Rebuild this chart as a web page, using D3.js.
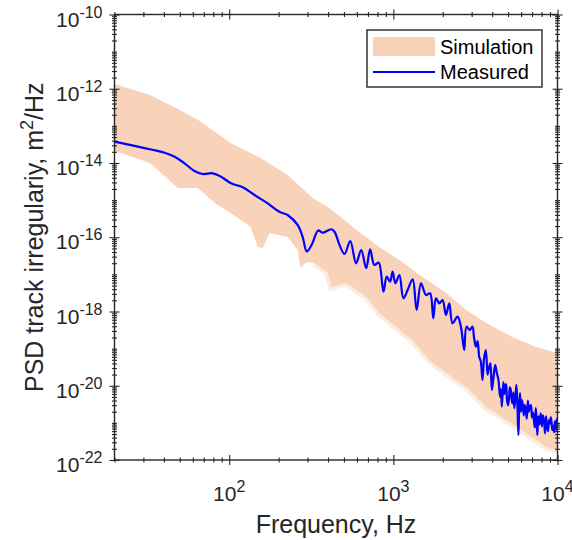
<!DOCTYPE html>
<html>
<head>
<meta charset="utf-8">
<script src="https://cdn.jsdelivr.net/npm/d3@7"></script>
<style>
  body { margin: 0; background: #fff; }
  text { font-family: "Liberation Sans", Arial, Helvetica, sans-serif; }
</style>
</head>
<body>
<div id="chart"></div>
<script>
// measured PSD
var measFreq = [20, 27.8, 40.4, 46.5, 53.4, 61.4, 69.0, 79.4, 89.2, 102.6, 120.9, 142.4, 171.5, 202, 226.8,
  261, 280, 297, 317.5, 348.6, 370, 418, 438, 470, 504, 546, 593, 637, 683, 722, 766, 814, 870, 911, 955,
  990, 1029, 1088, 1151, 1222, 1311, 1386, 1474, 1581, 1672, 1751, 1818, 1905, 1994, 2092, 2191, 2294,
  2460, 2580, 2702, 2791, 2927, 3035, 3100, 3183, 3260, 3334, 3410, 3491, 3570, 3662, 3750, 3835, 3900,
  3982, 4070, 4171, 4270, 4368, 4470, 4530, 4580, 4680, 4740, 4797, 4860, 4930, 5000, 5074, 5130, 5190,
  5250, 5314, 5390, 5460, 5540, 5620, 5700, 5779, 5840, 5910, 5980, 6061, 6140, 6230, 6320, 6410, 6500,
  6600, 6690, 6780, 6890, 6990, 7090, 7198, 7280, 7370, 7450, 7541, 7630, 7720, 7810, 7907, 8030, 8150,
  8270, 8398, 8520, 8640, 8760, 8882, 8990, 9100, 9200, 9300, 9420, 9530, 9640, 9754, 9820, 9880, 9940, 10000];
var measPsd = [3.75e-14, 2.75e-14, 1.89e-14, 1.48e-14, 9.8e-15, 6.09e-15, 5.06e-15, 5.28e-15, 4.28e-15,
  2.84e-15, 2.22e-15, 1.37e-15, 8.2e-16, 4.88e-16, 3.97e-16, 2.14e-16, 1.03e-16, 4.13e-17, 6.18e-17,
  1.52e-16, 1.33e-16, 1.64e-16, 1.41e-16, 6.18e-17, 3.54e-17, 7.92e-17, 1.99e-17, 4.54e-17, 1.46e-17,
  4.73e-17, 1.79e-17, 2.06e-17, 3.41e-18, 8.66e-18, 6.35e-18, 1.18e-17, 5.75e-18, 9.6e-18, 2.27e-18,
  3.79e-18, 7.37e-18, 1.10e-18, 5.75e-18, 2.78e-18, 3.09e-18, 6.56e-19, 2.27e-18, 1.66e-18, 2.04e-18,
  8.05e-19, 1.66e-18, 4.81e-19, 7.24e-19, 3.9e-19, 9.18e-20, 3.9e-19, 3.18e-19, 3.9e-19, 2.0e-19,
  1.13e-19, 1.6e-19, 6.06e-20, 4.5e-20, 1.43e-20, 5.5e-20, 9.18e-20, 2.0e-20, 3.26e-20, 4.0e-20,
  7.68e-21, 1.6e-20, 3.62e-20, 2.2e-20, 1.43e-20, 5.0e-21, 8.0e-21, 2.73e-21, 1.26e-20, 6.0e-21,
  9.42e-21, 1.1e-20, 4.0e-21, 3.0e-21, 5.07e-21, 9.0e-21, 7.9e-21, 4.5e-21, 3.37e-21, 6.5e-21,
  2.5e-21, 5.0e-21, 1.05e-20, 3.0e-21, 4.71e-22, 2.6e-21, 6.3e-21, 2.0e-21, 4.13e-21, 3.2e-21,
  1.6e-21, 3.0e-21, 2.22e-21, 1.3e-21, 4.0e-21, 2.0e-21, 2.73e-21, 3.0e-21, 1.4e-21, 1.9e-21,
  1.08e-21, 7.5e-22, 2.5e-21, 1.3e-21, 4.71e-22, 1.5e-21, 8.9e-22, 1.1e-21, 1.81e-21, 8.0e-22,
  1.6e-21, 1.2e-21, 5.24e-22, 1.5e-21, 7.9e-22, 6.0e-22, 1.19e-21, 9.5e-22, 1.4e-21, 1.05e-21,
  6.43e-22, 8.0e-22, 5.6e-22, 1.1e-21, 8.77e-22, 6.5e-22, 1.26e-21, 1.0e-21, 8.5e-22];

// simulation envelope
var simUpFreq = [20, 32.9, 50, 66.2, 102, 155.5, 226.8, 322, 408, 596, 822, 1134, 1501, 2101, 2779, 3677,
  5291, 7404, 10000];
var simUpPsd = [1.34e-12, 6.79e-13, 2.68e-13, 1.35e-13, 3.46e-14, 1.36e-14, 4.75e-15, 1.14e-15, 6.14e-16,
  1.57e-16, 5.46e-17, 2.15e-17, 8.5e-18, 3.15e-18, 1.10e-18, 4.9e-19, 2.06e-19, 1.11e-19, 7.6e-20];
var simLoFreq = [20, 32.9, 48.6, 64.4, 81.3, 102, 135, 149, 160, 176, 227, 261, 272, 296, 331, 397, 420,
  518, 686, 822, 1043, 1305, 1655, 2101, 2779, 3677, 4864, 6437, 8516, 10000];
var simLoPsd = [2.1e-14, 1.0e-14, 2.12e-15, 2.12e-15, 8.37e-16, 4.5e-16, 1.89e-16, 5.46e-17, 5.1e-17,
  1.3e-16, 1.02e-16, 4.54e-17, 1.49e-17, 2.15e-17, 2.04e-17, 1.16e-17, 4.57e-18, 5.86e-18, 2.46e-18,
  9.1e-19, 3.82e-19, 1.71e-19, 4.94e-20, 2.2e-20, 9.25e-21, 2.68e-21, 1.19e-21, 5.33e-22, 2.24e-22, 1.8e-22];

var xTickVals = [100, 1000, 10000];
var xTickExp = ["2", "3", "4"];
var yTickVals = [1e-22, 1e-20, 1e-18, 1e-16, 1e-14, 1e-12, 1e-10];
var yTickExp = ["-22", "-20", "-18", "-16", "-14", "-12", "-10"];
var legendLabels = ["Simulation", "Measured"];

var W = 572, H = 540;
var margin = { top: 14.5, left: 114.5, right: 14.5, bottom: 80 },
    width = W - margin.left - margin.right,
    height = 460 - margin.top;

var svg = d3.select("#chart").append("svg")
    .attr("width", W).attr("height", H);
var g = svg.append("g")
    .attr("transform", "translate(" + margin.left + "," + margin.top + ")");

var x = d3.scaleLog().domain([20, 10000]).range([0, width]);
var y = d3.scaleLog().domain([1e-22, 1e-10]).range([height, 0]);

g.append("clipPath").attr("id", "clip")
  .append("rect").attr("width", width).attr("height", height);

var line = d3.line()
    .x(function (d) { return x(d.f); })
    .y(function (d) { return y(d.p); });

// simulation band
var bandColor = "#f8d3b9";
var upper = simUpFreq.map(function (f, i) { return { f: f, p: simUpPsd[i] }; });
var lower = simLoFreq.map(function (f, i) { return { f: f, p: simLoPsd[i] }; });
var band = upper.concat(lower.slice().reverse());
// soft fringe along the lower edge
g.append("path")
  .attr("clip-path", "url(#clip)")
  .attr("fill", "none")
  .attr("stroke", bandColor)
  .attr("stroke-opacity", 0.45)
  .attr("stroke-width", 7)
  .attr("d", line(lower.filter(function (d) { return d.f > 300; })));
g.append("path")
  .attr("clip-path", "url(#clip)")
  .attr("fill", bandColor)
  .attr("stroke", "none")
  .attr("d", line(band) + "Z");

// measured
var meas = measFreq.map(function (f, i) { return { f: f, p: measPsd[i] }; });
g.append("path")
  .datum(meas)
  .attr("clip-path", "url(#clip)")
  .attr("fill", "none")
  .attr("stroke", "#0000ff")
  .attr("stroke-width", 2.2)
  .attr("stroke-linejoin", "round")
  .attr("d", line.curve(d3.curveCatmullRom.alpha(0.5)));

// minor tick values
var xMinor = [], yMinor = [];
[10, 100, 1000].forEach(function (b) {
  for (var k = 2; k <= 9; k++) if (b * k >= 20 && b * k <= 10000) xMinor.push(b * k);
});
for (var e = -22; e < -10; e++) {
  if (e % 2 !== 0) yMinor.push(Math.pow(10, e));
  for (var k = 2; k <= 9; k++) yMinor.push(k * Math.pow(10, e));
}

var axisColor = "#262626";
function drawAxis(axis, tx, ty, vals) {
  var ax = g.append("g").attr("transform", "translate(" + tx + "," + ty + ")")
    .call(axis.tickValues(vals).tickFormat("").tickSizeOuter(0));
  ax.select(".domain").remove();
  ax.selectAll(".tick line").attr("stroke", axisColor).attr("stroke-width", 1.1);
  return ax;
}
function vTicks(ax, a, b) { ax.selectAll(".tick line").attr("y1", a).attr("y2", b); }
function hTicks(ax, a, b) { ax.selectAll(".tick line").attr("x1", a).attr("x2", b); }

vTicks(drawAxis(d3.axisBottom(x), 0, height, xMinor), -2.5, 2.5);
vTicks(drawAxis(d3.axisBottom(x), 0, height, xTickVals), -5, 5);
vTicks(drawAxis(d3.axisTop(x), 0, 0, xMinor), -2.5, 2.5);
vTicks(drawAxis(d3.axisTop(x), 0, 0, xTickVals), -5, 5);
hTicks(drawAxis(d3.axisLeft(y), 0, 0, yMinor), -2.5, 2.5);
hTicks(drawAxis(d3.axisLeft(y), 0, 0, yTickVals), -5, 5);
hTicks(drawAxis(d3.axisRight(y), width, 0, yMinor), -2.5, 2.5);
hTicks(drawAxis(d3.axisRight(y), width, 0, yTickVals), -5, 5);

g.append("rect")
  .attr("width", width).attr("height", height)
  .attr("fill", "none").attr("stroke", axisColor).attr("stroke-width", 1.4);

// tick labels
xTickVals.forEach(function (v, i) {
  var t = g.append("text")
    .attr("x", x(v)).attr("y", height + 41)
    .attr("text-anchor", "middle")
    .attr("fill", axisColor)
    .style("font-size", "21px");
  t.append("tspan").text("10");
  t.append("tspan").attr("dy", -9).style("font-size", "16px").text(xTickExp[i]);
});
yTickVals.forEach(function (v, i) {
  var t = g.append("text")
    .attr("x", -12).attr("y", y(v) + 12)
    .attr("text-anchor", "end")
    .attr("fill", axisColor)
    .style("font-size", "21px");
  t.append("tspan").text("10");
  t.append("tspan").attr("dy", -9).style("font-size", "16px").text(yTickExp[i]);
});

// axis labels
svg.append("text")
  .attr("x", margin.left + width / 2).attr("y", 533)
  .attr("text-anchor", "middle").attr("fill", axisColor)
  .style("font-size", "25px")
  .text("Frequency, Hz");

var yl = svg.append("text")
  .attr("transform", "translate(43," + (margin.top + height / 2) + ") rotate(-90)")
  .attr("text-anchor", "middle").attr("fill", axisColor)
  .style("font-size", "25px");
yl.append("tspan").text("PSD track irregulariy, m");
yl.append("tspan").attr("dy", -10).style("font-size", "18px").text("2");
yl.append("tspan").attr("dy", 10).text("/Hz");

// legend
var lg = svg.append("g").attr("transform", "translate(367,30)");
lg.append("rect").attr("width", 175).attr("height", 57)
  .attr("fill", "#fff").attr("stroke", axisColor).attr("stroke-width", 1.4);
lg.append("rect").attr("x", 6).attr("y", 7).attr("width", 62).attr("height", 19)
  .attr("fill", bandColor);
lg.append("line").attr("x1", 6).attr("x2", 68).attr("y1", 42).attr("y2", 42)
  .attr("stroke", "#0000ff").attr("stroke-width", 2.2);
legendLabels.forEach(function (s, i) {
  lg.append("text").attr("x", 73).attr("y", 24 + i * 25)
    .attr("fill", "#000").style("font-size", "20px").text(s);
});
</script>
</body>
</html>
